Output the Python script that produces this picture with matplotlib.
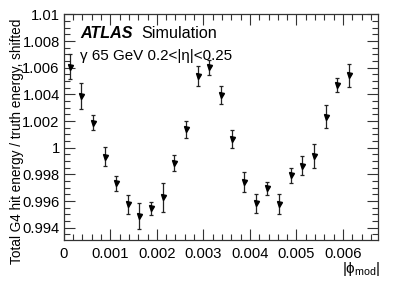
import matplotlib
matplotlib.use("Agg")
import matplotlib.pyplot as plt
import numpy as np
from matplotlib.ticker import MultipleLocator, FuncFormatter

plt.rcParams['font.family'] = ['Liberation Sans', 'DejaVu Sans']
plt.rcParams['mathtext.fontset'] = 'custom'
plt.rcParams['mathtext.rm'] = 'Liberation Sans'
plt.rcParams['mathtext.it'] = 'Liberation Sans'

# bin centres of |phi_mod|
phi = np.arange(25) * 0.00025 + 0.000125

# energy ratio and its uncertainty
ratio = [1.00608, 1.00388, 1.00188, 0.99933, 0.99733, 0.99575, 0.99488, 0.99545,
         0.99628, 0.99883, 1.00138, 1.00538, 1.00603, 1.00395, 1.00065, 0.99745,
         0.99583, 0.99695, 0.99578, 0.99795, 0.99865, 0.99938, 1.00233, 1.00470,
         1.00545]
err = [0.00093, 0.00095, 0.00058, 0.00071, 0.00054, 0.00070, 0.00100, 0.00051,
       0.00109, 0.00059, 0.00063, 0.00072, 0.00055, 0.00069, 0.00069, 0.00075,
       0.00069, 0.00050, 0.00072, 0.00056, 0.00071, 0.00091, 0.00085, 0.00053,
       0.00086]

fig = plt.figure(figsize=(3.99, 2.87), dpi=100)
ax = fig.add_axes([0.160, 0.1638, 0.787, 0.786])

ax.errorbar(phi, ratio, yerr=err, fmt='v', color='black', ms=3.6,
            ecolor='#222222', elinewidth=0.9, capsize=1.5, capthick=0.9)

ax.set_xlim(0, 0.00675)
ax.set_ylim(0.99308, 1.01)

ax.xaxis.set_major_locator(MultipleLocator(0.001))
ax.xaxis.set_minor_locator(MultipleLocator(0.0002))
ax.yaxis.set_major_locator(MultipleLocator(0.002))
ax.yaxis.set_minor_locator(MultipleLocator(0.0005))

def fmt(v, pos):
    s = ('%.4f' % v).rstrip('0').rstrip('.')
    return s
ax.xaxis.set_major_formatter(FuncFormatter(fmt))
ax.yaxis.set_major_formatter(FuncFormatter(fmt))

ax.tick_params(which='both', direction='in', top=True, right=True,
               labelsize=10.6, color='#333333')
ax.tick_params(which='major', length=8, width=0.8)
ax.tick_params(which='minor', length=4, width=0.8)
ax.tick_params(axis='x', pad=5)
ax.tick_params(axis='y', pad=3)
for s in ax.spines.values():
    s.set_linewidth(0.9)
    s.set_color('#333333')

ax.set_ylabel('Total G4 hit energy / truth energy, shifted', fontsize=9.8)
ax.yaxis.set_label_coords(-0.127, 0.436)
fig.text(0.952, 0.03, r'$|\phi_{\mathrm{mod}}|$', ha='right', va='bottom',
         fontsize=11)

ax.text(0.051, 0.895, 'ATLAS', transform=ax.transAxes, fontsize=11.6,
        fontweight='bold', fontstyle='italic')
ax.text(0.248, 0.895, 'Simulation', transform=ax.transAxes, fontsize=11.6)
ax.text(0.051, 0.80, '\u03b3 65 GeV 0.2<|\u03b7|<0.25', transform=ax.transAxes,
        fontsize=10.9)

fig.savefig('out.png', dpi=100)
